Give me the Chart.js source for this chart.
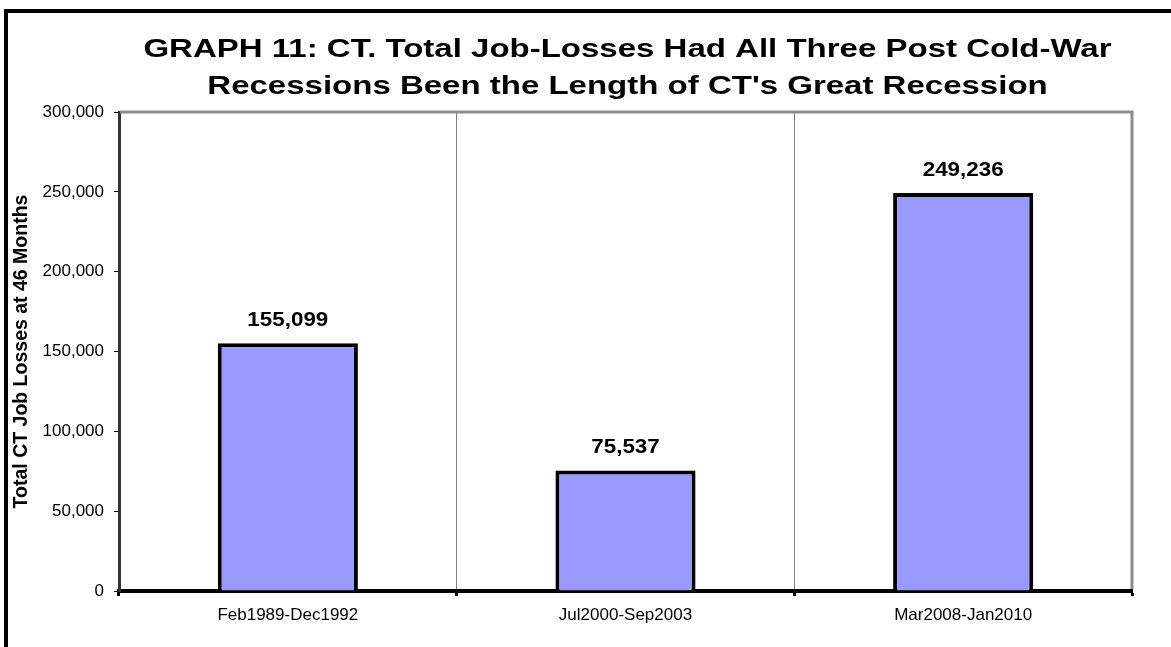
<!DOCTYPE html>
<html><head><meta charset="utf-8">
<script src="https://cdn.jsdelivr.net/npm/chart.js@4.4.0/dist/chart.umd.min.js"></script>
<style>html,body{margin:0;padding:0;background:#fff;overflow:hidden}#wrap{width:1171px;height:647px}canvas{display:block}</style>
</head><body><div id="wrap"><canvas id="c" width="1171" height="647"></canvas></div>
<script>
const TITLE_LINES = ["GRAPH 11: CT. Total Job-Losses Had All Three Post Cold-War", "Recessions Been the Length of CT's Great Recession"];
const Y_AXIS_TITLE = "Total CT Job Losses at 46 Months";
const CATEGORIES = ["Feb1989-Dec1992", "Jul2000-Sep2003", "Mar2008-Jan2010"];
const JOB_LOSSES = [155099, 75537, 249236];
const Y_MIN = 0, Y_MAX = 300000, Y_STEP = 50000;

const FONT = "'Liberation Sans', Arial, Helvetica, sans-serif";

const decor = {
  id: 'decor',
  beforeDraw(chart) {
    const ctx = chart.ctx;
    ctx.save(); ctx.fillStyle = '#fff'; ctx.fillRect(0, 0, chart.width, chart.height); ctx.restore();
  },
  afterDatasetsDraw(chart) {
    const ctx = chart.ctx;
    const meta = chart.getDatasetMeta(0);
    ctx.save();
    ctx.fillStyle = '#000';
    ctx.font = 'bold 20px ' + FONT;
    ctx.textAlign = 'center';
    ctx.textBaseline = 'alphabetic';
    meta.data.forEach((bar, i) => {
      const v = chart.data.datasets[0].data[i];
      ctx.save();
      ctx.translate(bar.x, bar.y - 17);
      ctx.scale(1.12, 1);
      ctx.fillText(v.toLocaleString('en-US'), 0, 0);
      ctx.restore();
    });
    ctx.restore();
  },
  afterDraw(chart) {
    const ctx = chart.ctx, a = chart.chartArea;
    ctx.save();
    ctx.strokeStyle = '#8c8c8c'; ctx.lineWidth = 3; ctx.lineCap = 'butt';
    ctx.beginPath();
    ctx.moveTo(a.left + 1, a.top);
    ctx.lineTo(a.right, a.top);
    ctx.lineTo(a.right, a.bottom - 2);
    ctx.stroke();
    ctx.fillStyle = '#000';
    ctx.fillRect(4, 9, 4, chart.height - 9);
    ctx.fillRect(4, 9, chart.width - 4, 4);
    ctx.font = 'bold 25px ' + FONT;
    ctx.textAlign = 'center'; ctx.textBaseline = 'alphabetic';
    const cx = (a.left + a.right) / 2 + 2;
    const baselines = [57, 94];
    TITLE_LINES.forEach((t, i) => {
      ctx.save(); ctx.translate(cx, baselines[i]); ctx.scale(1.32, 1); ctx.fillText(t, 0, 0); ctx.restore();
    });
    ctx.restore();
  }
};

new Chart(document.getElementById('c'), {
  type: 'bar',
  data: {
    labels: CATEGORIES,
    datasets: [{
      data: JOB_LOSSES,
      backgroundColor: '#9999FF',
      borderColor: '#000',
      borderWidth: 4,
      barPercentage: 0.415,
      categoryPercentage: 1.0
    }]
  },
  options: {
    responsive: false,
    animation: false,
    devicePixelRatio: 1,
    layout: { padding: { left: 0, right: 39, top: 112, bottom: 0 } },
    plugins: { legend: { display: false }, title: { display: false }, tooltip: { enabled: false } },
    scales: {
      x: {
        z: 1,
        afterFit(s) { s.height = 56; },
        grid: { offset: true, color: '#808080', lineWidth: 1, drawTicks: true, tickLength: 5, tickColor: '#000', tickWidth: 3 },
        border: { display: true, color: '#000', width: 4 },
        ticks: { color: '#000', font: { family: FONT, size: 17 }, padding: 9, maxRotation: 0 }
      },
      y: {
        min: Y_MIN, max: Y_MAX,
        afterFit(s) { s.width = 119; },
        grid: { drawOnChartArea: false, drawTicks: true, tickLength: 5, tickColor: '#000', tickWidth: 1 },
        border: { display: true, color: '#333', width: 3 },
        ticks: { stepSize: Y_STEP, color: '#000', padding: 10, font: { family: FONT, size: 17 },
          callback: v => v.toLocaleString('en-US') },
        title: { display: true, text: Y_AXIS_TITLE, color: '#000', font: { family: FONT, size: 19.5, weight: 'bold' }, padding: { top: 10, bottom: 0 } }
      }
    }
  },
  plugins: [decor]
});
</script></body></html>
